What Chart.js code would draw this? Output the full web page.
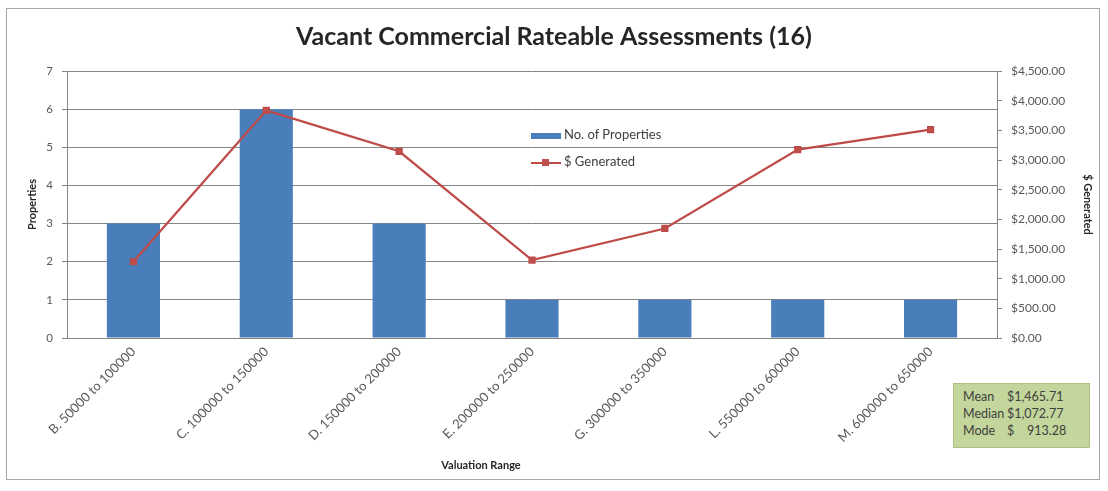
<!DOCTYPE html>
<html>
<head>
<meta charset="utf-8">
<script src="https://cdn.jsdelivr.net/npm/chart.js@4/dist/chart.umd.min.js"></script>
<style>
  html, body { margin:0; padding:0; background:#fff; }
  #wrap { position:relative; width:1108px; height:491px; }
  #frame { position:absolute; left:6px; top:8px; width:1094px; height:472px; border:1px solid #a6a6a6; box-sizing:border-box; pointer-events:none; }
  canvas { position:absolute; left:0; top:0; }
  .leg { position:absolute; font-family:Lato, "Open Sans", sans-serif; font-size:13px; color:#404040; white-space:nowrap; }
  #xt { position:absolute; left:431px; top:458px; width:100px; text-align:center; font-family:Lato, "Open Sans", sans-serif; font-size:11px; font-weight:bold; color:#262626; }
  #stats { position:absolute; left:953px; top:383px; width:137px; height:65px; background:#c3d69b; border:1px solid #b0c080; box-sizing:border-box;
           font-family:Lato, "Open Sans", sans-serif; font-size:12.5px; color:#404040; padding:4px 0 0 9px; line-height:17px; }
  #stats span.l { display:inline-block; width:44px; }
</style>
</head>
<body>
<div id="wrap">
  <canvas id="c" width="1108" height="491"></canvas>
  <div id="frame"></div>
  <div class="leg" style="left:531px;top:126px;"><span style="display:inline-block;width:30px;height:6px;background:#4a7ebb;vertical-align:middle;margin-right:3px;"></span>No. of Properties</div>
  <div class="leg" style="left:531px;top:153px;"><span style="display:inline-block;position:relative;width:30px;height:6px;vertical-align:middle;margin-right:3px;"><span style="position:absolute;left:0;top:2px;width:30px;height:2px;background:#be4b48;"></span><span style="position:absolute;left:11px;top:-1px;width:7px;height:7px;background:#c0504d;"></span></span>$ Generated</div>
  <div id="xt">Valuation Range</div>
  <div id="stats"><div><span class="l">Mean</span>$1,465.71</div><div><span class="l">Median</span>$1,072.77</div><div><span class="l">Mode</span>$&nbsp;&nbsp;&nbsp;&nbsp;913.28</div></div>
</div>
<script>
const categories = ["B. 50000 to 100000", "C. 100000 to 150000", "D. 150000 to 200000", "E. 200000 to 250000", "G. 300000 to 350000", "L. 550000 to 600000", "M. 600000 to 650000"];
const properties = [3, 6, 3, 1, 1, 1, 1];
const generated = [1285, 3837, 3147, 1313, 1846, 3175, 3512];
const leftTicks = [0, 1, 2, 3, 4, 5, 6, 7];
const rightTicks = [0, 500, 1000, 1500, 2000, 2500, 3000, 3500, 4000, 4500];

const FONT = 'Lato, "Open Sans", sans-serif';
const money = v => '$' + Number(v).toLocaleString('en-US', {minimumFractionDigits:2, maximumFractionDigits:2});

new Chart(document.getElementById('c'), {
  data: {
    labels: categories,
    datasets: [
      { type:'line', label:'$ Generated', data: generated, yAxisID:'y1', borderColor:'#be4b48', backgroundColor:'#c0504d',
        borderWidth:2.25, pointStyle:'rect', pointRadius:3.5, pointBorderColor:'#be4b48', pointBackgroundColor:'#c0504d', tension:0, order:0 },
      { type:'bar', label:'No. of Properties', data: properties, yAxisID:'y', backgroundColor:'#4a7ebb', borderWidth:0,
        categoryPercentage:1.0, barPercentage:0.4, order:1 }
    ]
  },
  options: {
    responsive:false, animation:false,
    layout:{ padding:0 },
    plugins:{
      legend:{ display:false },
      tooltip:{ enabled:false },
      title:{ display:true, text:'Vacant Commercial Rateable Assessments (16)', color:'#262626',
        font:{ family:FONT, size:25, weight:'bold', lineHeight:1.2 }, padding:{ top:22, bottom:19 } }
    },
    scales:{
      x:{
        grid:{ display:false, drawTicks:false },
        border:{ display:true, color:'#868686' },
        ticks:{ minRotation:45, maxRotation:45, autoSkip:false, color:'#595959', font:{ family:FONT, size:13 }, padding:6 },
        afterFit: s => { s.height = 153; }
      },
      y:{
        position:'left', min:0, max:7,
        afterBuildTicks: s => { s.ticks = leftTicks.map(v => ({ value:v })); },
        grid:{ color:'#868686', lineWidth:1, tickLength:5, drawTicks:true },
        border:{ display:true, color:'#868686' },
        ticks:{ color:'#595959', font:{ family:FONT, size:11.5 }, padding:9 },
        title:{ display:true, text:'Properties', color:'#262626', font:{ family:FONT, size:11, weight:'bold', lineHeight:1.2 }, padding:{ top:26 } },
        afterFit: s => { s.width = 67; }
      },
      y1:{
        position:'right', min:0, max:4500,
        afterBuildTicks: s => { s.ticks = rightTicks.map(v => ({ value:v })); },
        grid:{ drawOnChartArea:false, color:'#868686', tickLength:5 },
        border:{ display:true, color:'#868686' },
        ticks:{ color:'#595959', font:{ family:FONT, size:12 }, padding:9, callback: v => money(v) },
        title:{ display:true, text:'$ Generated', color:'#262626', font:{ family:FONT, size:11, weight:'bold', lineHeight:1.2 }, padding:{ top:14, bottom:14 } },
        afterFit: s => { s.width = 111; }
      }
    }
  }
});
</script>
</body>
</html>
